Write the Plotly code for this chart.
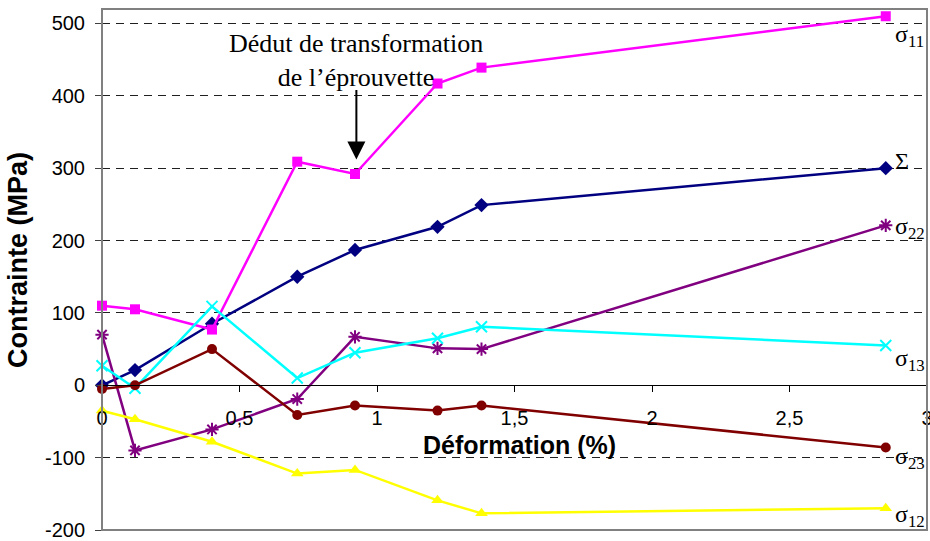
import plotly.graph_objects as go

# Strain (%) at each measurement step
deformation = [0, 0.12, 0.40, 0.71, 0.92, 1.22, 1.38, 2.85]

# Stress components (MPa)
sigma_eq = [0, 21, 85, 150, 187, 219, 249, 300]
sigma_11 = [110, 105, 77, 309, 292, 417, 439, 510]
sigma_22 = [70, -90, -61, -19, 67, 51, 50, 221]
sigma_13 = [27, -4, 109, 10, 45, 65, 81, 55]
sigma_23 = [-5, 0, 50, -41, -28, -35, -28, -86]
sigma_12 = [-35, -47, -78, -122, -117, -159, -177, -170]

# Axis ticks
x_tickvals = [0, 0.5, 1, 1.5, 2, 2.5, 3]
x_ticktext = ["0", "0,5", "1", "1,5", "2", "2,5", "3"]
y_tickvals = [-200, -100, 0, 100, 200, 300, 400, 500]
y_ticktext = ["-200", "-100", "0", "100", "200", "300", "400", "500"]

Y_MIN, Y_MAX = -200, 520
X_MIN, X_MAX = 0, 3

series = [
    ("Σ", sigma_eq, "#000080", "diamond", 11),
    ("σ<sub>11</sub>", sigma_11, "#FF00FF", "square", 10),
    ("σ<sub>22</sub>", sigma_22, "#800080", "asterisk-open", 11),
    ("σ<sub>13</sub>", sigma_13, "#00FFFF", "x-thin-open", 11),
    ("σ<sub>23</sub>", sigma_23, "#800000", "circle", 10),
    ("σ<sub>12</sub>", sigma_12, "#FFFF00", "triangle-up", 11),
]

fig = go.Figure()
for name, vals, color, symbol, size in series:
    open_marker = symbol.endswith("open")
    fig.add_trace(go.Scatter(
        x=deformation, y=vals, mode="lines+markers", name=name,
        line=dict(color=color, width=2.5),
        marker=dict(symbol=symbol, size=size, color=color,
                    line=dict(color=color, width=2 if open_marker else 0)),
        showlegend=False, cliponaxis=False,
    ))

# Curve labels at the right end, placed next to each series
label_pos = {
    "Σ": 310,
    "σ<sub>11</sub>": 483,
    "σ<sub>22</sub>": 218,
    "σ<sub>13</sub>": 35,
    "σ<sub>23</sub>": -100,
    "σ<sub>12</sub>": -180,
}
serif = "Liberation Serif, Times New Roman, serif"
for name, *_ in series:
    fig.add_annotation(x=2.878, y=label_pos[name], xref="x", yref="y",
                       text=name, showarrow=False, xanchor="left", yanchor="middle",
                       font=dict(family=serif, size=24, color="black"))

# Onset of specimen transformation
fig.add_annotation(x=0.925, y=449, xref="x", yref="y",
                   text="Dédut de transformation<br>de l’éprouvette",
                   showarrow=False, xanchor="center", yanchor="middle", align="center",
                   font=dict(family=serif, size=26, color="black"))
fig.add_annotation(x=0.925, y=312, xref="x", yref="y", text="",
                   showarrow=True, ax=0, ay=-71, arrowhead=2, arrowsize=1.8,
                   arrowwidth=2, arrowcolor="black")

sans = "Liberation Sans, Arial, sans-serif"
# Axis titles
fig.add_annotation(x=0.5057, y=0.163, xref="paper", yref="paper",
                   text="<b>Déformation (%)</b>", showarrow=False,
                   xanchor="center", yanchor="middle",
                   font=dict(family=sans, size=25, color="black"))
fig.add_annotation(x=-0.102, y=0.518, xref="paper", yref="paper",
                   text="<b>Contrainte (MPa)</b>", showarrow=False, textangle=-90,
                   xanchor="center", yanchor="middle",
                   font=dict(family=sans, size=27, color="black"))

# Plot frame
fig.add_shape(type="rect", xref="paper", yref="paper", x0=0, y0=0, x1=1, y1=1,
              line=dict(color="#808080", width=2), layer="above")

zero_pos = (0 - Y_MIN) / (Y_MAX - Y_MIN)

fig.update_layout(
    width=930, height=541,
    margin=dict(l=102, r=3, t=9, b=11),
    paper_bgcolor="white", plot_bgcolor="white",
    font=dict(family=sans, size=20, color="black"),
    xaxis=dict(range=[X_MIN, X_MAX], tickvals=x_tickvals, ticktext=x_ticktext,
               anchor="free", position=zero_pos, showline=True, linecolor="black",
               linewidth=1, ticks="outside", ticklen=6, tickcolor="black",
               ticklabelstandoff=9, ticklabeloverflow="allow", automargin=False,
               showgrid=False, zeroline=False,
               tickfont=dict(family=sans, size=20, color="black")),
    yaxis=dict(range=[Y_MIN, Y_MAX], tickvals=y_tickvals, ticktext=y_ticktext,
               showgrid=True, gridcolor="#202020", gridwidth=1, griddash="8px,6px",
               zeroline=False, showline=False, ticks="outside", ticklen=6,
               tickcolor="#404040", ticklabelstandoff=6, automargin=False,
               tickfont=dict(family=sans, size=20, color="black")),
)

fig.write_html("out.html", config={"displayModeBar": False})
